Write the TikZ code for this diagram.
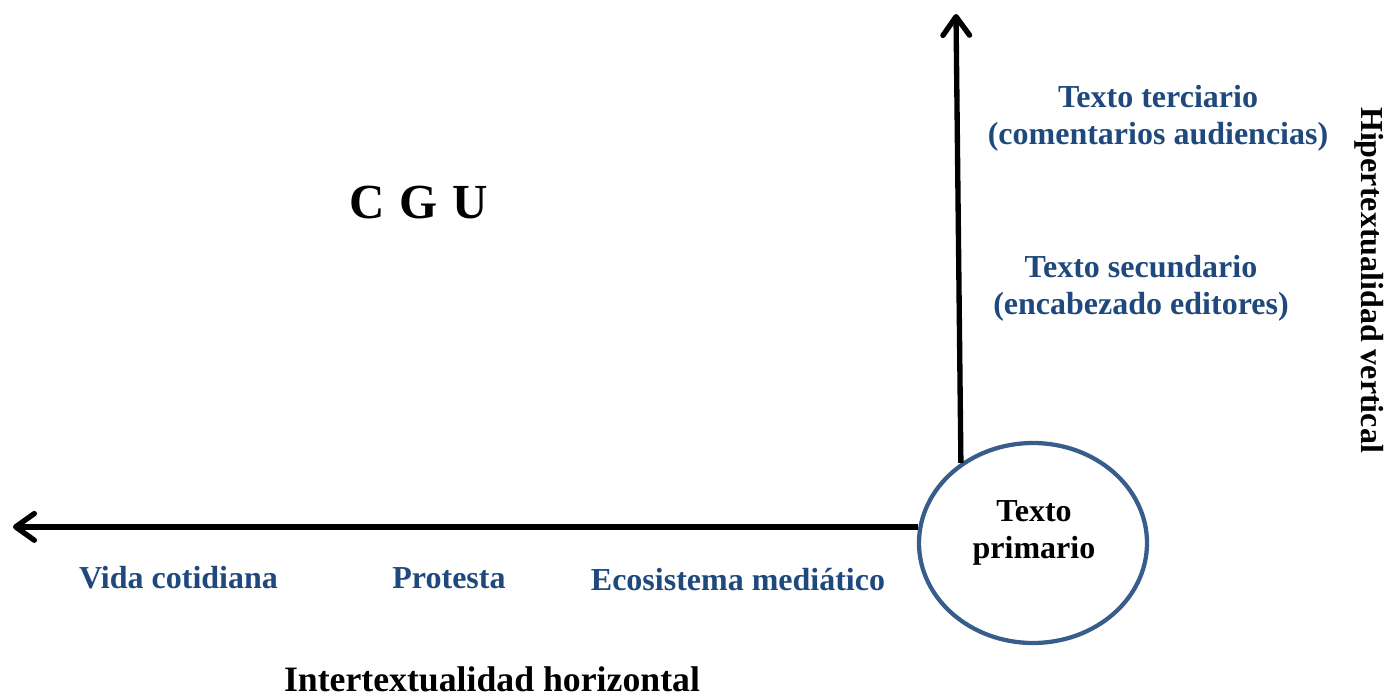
\documentclass[tikz,border=0pt]{standalone}
\usepackage{fontspec}
\setmainfont{Liberation Serif}
\usetikzlibrary{arrows.meta,shapes.geometric}
\definecolor{txtblue}{RGB}{31,73,125}
\definecolor{ringblue}{RGB}{56,93,138}
\tikzset{
  lbl/.style={font=\fontsize{24}{27.75}\selectfont\bfseries, inner sep=0pt, anchor=base, align=center},
  bluelbl/.style={lbl, text=txtblue},
  axis/.style={line width=4pt, -{Straight Barb[length=14pt,width=20pt,round]}},
  ring/.style={draw=ringblue, line width=3.2pt, ellipse, minimum width=171pt, minimum height=150pt, inner sep=0pt}
}
\begin{document}
\begin{tikzpicture}[x=0.75pt,y=-0.75pt]
\useasboundingbox (0,0) rectangle (1393,696);
\node[ring] (tp) at (1033,543) {};
\coordinate (vtop) at (956,14);
\coordinate (hleft) at (13,528);
\draw[axis] (tp.132.7) -- (vtop);
\draw[axis] (tp.172.6) -- (tp.172.6 -| hleft);
\node[lbl] (prim) at (1034,558) {Texto\\primario};
\node[bluelbl] (terc) at (1158,144) {Texto terciario\\(comentarios audiencias)};
\node[bluelbl] (secu) at (1141,314) {Texto secundario\\(encabezado editores)};
\node[bluelbl] (vida) at (178.5,588) {Vida cotidiana};
\node[bluelbl] (prot) at (449,588) {Protesta};
\node[bluelbl] (ecos) at (738,590) {Ecosistema mediático};
\node[lbl, font=\fontsize{26.8}{30}\selectfont\bfseries] (inter) at (492,691) {Intertextualidad horizontal};
\node[lbl, rotate=-90] (hiper) at (1361,280) {Hipertextualidad vertical};
\node[lbl, font=\fontsize{36.75}{40}\selectfont\bfseries] (cgu) at (419,218) {C\hspace{0.3em}G\hspace{0.3em}U};
\end{tikzpicture}
\end{document}
